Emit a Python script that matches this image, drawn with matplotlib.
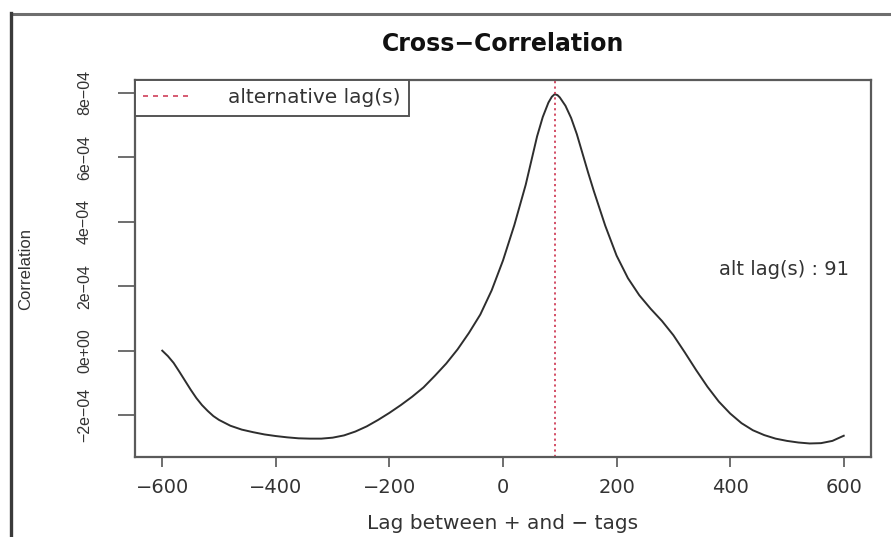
import numpy as np
import matplotlib
matplotlib.use("Agg")
import matplotlib.pyplot as plt
from matplotlib.lines import Line2D

# ---- data -------------------------------------------------------------
lags = [-600, -590, -580, -570, -560, -550, -540, -530, -520, -510, -500,
        -480, -460, -440, -420,
        -400, -380, -360, -340, -320, -300, -280, -260, -240, -220, -200,
        -180, -160, -140, -120, -100, -80, -60, -40, -20, 0, 20, 40, 60,
        70, 80, 86, 91, 96, 100, 110, 120, 130, 140, 150, 160, 180, 200,
        220, 240, 260, 280, 300, 320, 340, 360, 380, 400, 420, 440, 460,
        480, 500, 520, 540, 560, 580, 600]
# correlation in units of 1e-4
corr_e4 = [0.00, -0.17, -0.38, -0.65, -0.93, -1.21, -1.47, -1.69, -1.87,
           -2.03, -2.15, -2.33, -2.45,
           -2.53, -2.60, -2.65, -2.69, -2.72, -2.73, -2.73, -2.70, -2.63,
           -2.51, -2.35, -2.15, -1.93, -1.69, -1.43, -1.14, -0.78, -0.40,
           0.04, 0.55, 1.12, 1.87, 2.80, 3.90, 5.15, 6.65, 7.25, 7.70,
           7.88, 7.96, 7.93, 7.86, 7.60, 7.22, 6.72, 6.12, 5.52, 4.95,
           3.88, 2.95, 2.25, 1.72, 1.30, 0.92, 0.48, -0.05, -0.60, -1.12,
           -1.58, -1.95, -2.25, -2.47, -2.62, -2.73, -2.80, -2.85, -2.88,
           -2.87, -2.80, -2.64]
alt_lag = 91

x_ticks = [-600, -400, -200, 0, 200, 400, 600]
x_ticklabels = ["\u2212600", "\u2212400", "\u2212200", "0", "200", "400", "600"]
y_ticks = [-2e-4, 0.0, 2e-4, 4e-4, 6e-4, 8e-4]
y_ticklabels = ["\u22122e\u221204", "0e+00", "2e\u221204", "4e\u221204",
                "6e\u221204", "8e\u221204"]

title = "Cross\u2212Correlation"
xlabel = "Lag between + and \u2212 tags"
ylabel = "Correlation"
legend_label = "alternative lag(s)"
annot = "alt lag(s) : 91"

corr = np.array(corr_e4) * 1e-4

# ---- figure -----------------------------------------------------------
W, H = 891, 537
fig = plt.figure(figsize=(W / 100, H / 100), dpi=100)
fig.patch.set_facecolor("white")

L, R, T, B = 135, 871, 80, 457
ax = fig.add_axes([L / W, 1 - B / H, (R - L) / W, (B - T) / H])

ax.plot(lags, corr, color="#2e2e2e", lw=1.4)
ax.axvline(alt_lag, color="#d0405a", lw=1.3, ls=(0, (1.2, 1.8)))

ax.set_xlim(-648, 648)
ax.set_ylim(-3.3e-4, 8.4e-4)

narrow = ["Liberation Sans", "DejaVu Sans"]

ax.set_xticks(x_ticks)
ax.set_xticklabels(x_ticklabels, fontsize=14, color="#333333")
ax.set_yticks(y_ticks)
ax.set_yticklabels(y_ticklabels, fontsize=11.5, rotation=90, va="center",
                   color="#333333", family=narrow)
ax.tick_params(axis="x", length=7, width=1.2, color="#555555", pad=8)
ax.tick_params(axis="y", length=12, width=1.2, color="#555555", pad=19)

for s in ax.spines.values():
    s.set_color("#5a5a5a")
    s.set_linewidth(1.6)

ax.set_title(title, fontsize=17, fontweight="bold", pad=21, color="#111111")
ax.set_xlabel(xlabel, fontsize=14.5, color="#333333")
ax.xaxis.set_label_coords(0.5, -0.151)
ax.set_ylabel(ylabel, fontsize=12, color="#333333", family=narrow)
ax.yaxis.set_label_coords(-0.139, 0.5)

ax.text(494, 2.51e-4, annot, fontsize=14, ha="center", va="center",
        color="#333333")

handle = Line2D([], [], color="#d0405a", lw=1.2, ls=(0, (3, 3)))
leg = ax.legend([handle], [legend_label], loc="upper left",
                bbox_to_anchor=(0, 1), borderaxespad=0, fontsize=14.5,
                fancybox=False, framealpha=1, edgecolor="#555555",
                borderpad=0.42, handlelength=2.3, handletextpad=1.9)
leg.get_frame().set_linewidth(1.4)
for t in leg.get_texts():
    t.set_color("#333333")

# outer frame lines of the screenshot
fig.add_artist(Line2D([11 / W, 1.0], [1 - 14 / H, 1 - 14 / H],
                      transform=fig.transFigure, color="#6e6e6e", lw=2.2))
fig.add_artist(Line2D([11 / W, 11 / W], [1 - 13 / H, 0.0],
                      transform=fig.transFigure, color="#3a3a3a", lw=2.4))

fig.savefig("out.png", dpi=100)
